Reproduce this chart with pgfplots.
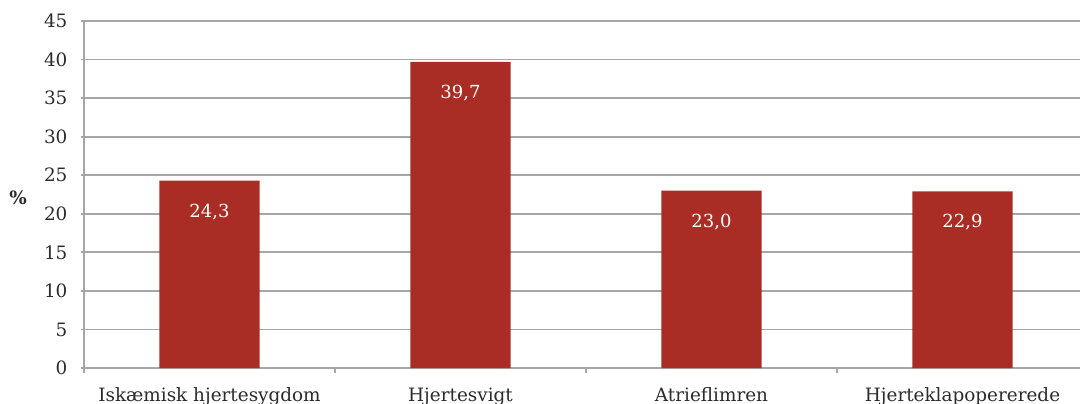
\documentclass[border=0pt]{standalone}
\usepackage{pgfplots}
\pgfplotsset{compat=1.18}
\usepackage{fontspec}
\setmainfont{DejaVu Serif}
\definecolor{barred}{HTML}{A92D25}
\definecolor{gridgray}{HTML}{A6A6A6}
\definecolor{txt}{HTML}{2B2B2B}
\begin{document}
\begin{tikzpicture}
\begin{axis}[
  at={(42pt,17.5pt)}, anchor=south west,
  scale only axis, width=502pt, height=173.5pt,
  xmin=-0.5, xmax=3.5, ymin=0, ymax=45,
  axis x line=bottom, axis y line=left,
  axis line style={gridgray, line width=0.9pt, -},
  ytick={0,5,...,45},
  ymajorgrids, grid style={gridgray, line width=0.9pt},
  major tick length=2.5pt,
  tick style={gridgray, line width=0.9pt},
  xtick={-0.5,0.5,1.5,2.5,3.5},
  x tick label as interval,
  xticklabels={Iskæmisk hjertesygdom, Hjertesvigt, Atrieflimren, Hjerteklapopererede},
  xticklabel style={yshift=-3.5pt, text height=7pt, text depth=2pt},
  yticklabel style={xshift=-3.5pt},
  tick label style={font=\fontsize{9.2}{11}\selectfont, text=txt},
  /pgf/number format/assume math mode=true,
  ylabel={\textbf{\%}},
  ylabel style={at={(axis description cs:-0.0657,0.49)}, rotate=-90, anchor=center, font=\fontsize{9.2}{11}\selectfont, text=txt},
  ybar, bar width=0.4,
  nodes near coords={\pgfmathprintnumber[fixed, fixed zerofill, precision=1, use comma]{\pgfplotspointmeta}},
  every node near coord/.append style={anchor=center, yshift=-15.5pt, text=white, font=\fontsize{9}{11}\selectfont},
]
\addplot[fill=barred, draw=none] coordinates {(0,24.3) (1,39.7) (2,23.0) (3,22.9)};
\end{axis}
\pgfresetboundingbox
\path[use as bounding box] (0,0) rectangle (540pt,201.5pt);
\end{tikzpicture}
\end{document}
